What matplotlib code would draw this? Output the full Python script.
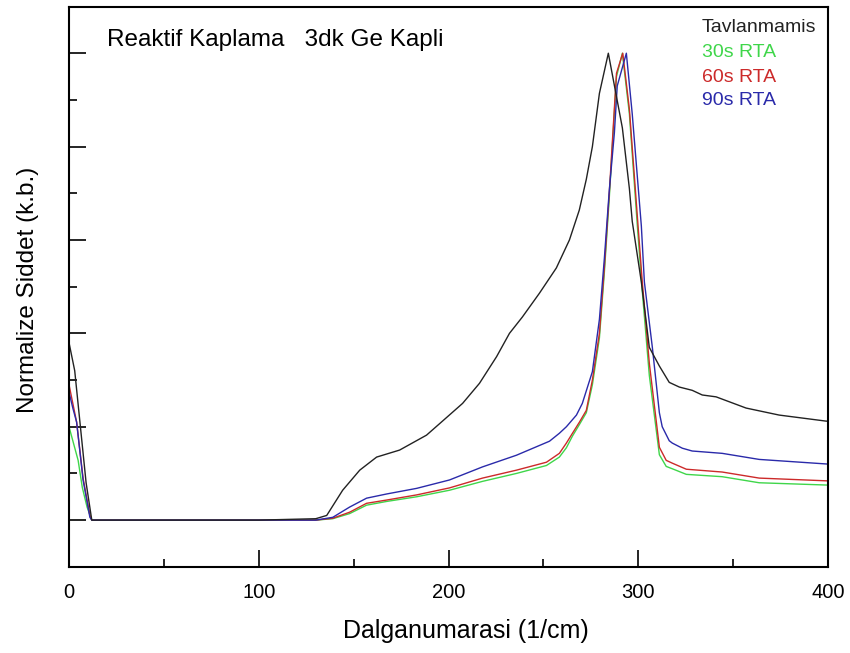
import matplotlib.pyplot as plt
from matplotlib.ticker import MultipleLocator, NullFormatter

plt.rcParams['font.family'] = ['Liberation Sans', 'DejaVu Sans']

# Tavlanmamis (black)
x_tav = [0, 3, 6, 9, 12, 20, 60, 100, 130, 135.8, 144.2, 153.2, 162.1, 174.2, 188.4,
         196.8, 207.4, 216.3, 225.3, 232.1, 238.9, 247.9, 256.8, 263.7, 268.9, 272.6,
         275.8, 279.5, 284.2, 291.6, 295.3, 296.8, 301.6, 305.8, 311.1, 316.3, 321.6,
         328.4, 333.7, 341.0, 356.8, 374.2, 399, 400]
y_tav = [0.38, 0.32, 0.20, 0.08, 0.0, 0, 0, 0, 0.003, 0.01, 0.064, 0.107, 0.135, 0.15, 0.182,
         0.212, 0.25, 0.293, 0.35, 0.40, 0.435, 0.486, 0.54, 0.60, 0.664, 0.73,
         0.80, 0.914, 1.0, 0.84, 0.71, 0.64, 0.51, 0.37, 0.33, 0.295, 0.285,
         0.278, 0.268, 0.264, 0.24, 0.225, 0.212, 0.212]

# 30s RTA (green)
x_30 = [0, 2, 4.8, 7, 9.5, 12, 60, 130, 139, 147.9, 156.8, 167.4, 183.2, 200.5, 217.9, 235.8,
        251.6, 258.4, 262.1, 265.3, 269, 272.6, 275.8, 279.5, 282.1, 284.7, 288.5, 291.6,
        295.3, 299.5, 302.1, 305.8, 311.1, 314.7, 317.9, 325.3, 344.2, 363.7, 400]
y_30 = [0.20, 0.17, 0.128, 0.07, 0.028, 0, 0, 0, 0.003, 0.014, 0.032, 0.04, 0.05, 0.064, 0.083, 0.10,
        0.117, 0.135, 0.155, 0.18, 0.205, 0.23, 0.29, 0.39, 0.53, 0.69, 0.95, 1.0,
        0.87, 0.63, 0.49, 0.31, 0.14, 0.115, 0.11, 0.098, 0.093, 0.08, 0.075]

# 60s RTA (red)
x_60 = [0, 2, 4, 7.4, 11, 12, 60, 130, 139, 147.9, 156.8, 167.4, 183.2, 200.5, 217.9, 235.8,
        251.6, 258.4, 262.1, 265.3, 269, 272.6, 275.8, 279.5, 282.1, 284.7, 288.5, 291.8,
        295.3, 299.5, 302.1, 305.8, 311.1, 314.7, 317.9, 325.3, 344.2, 363.7, 400]
y_60 = [0.29, 0.25, 0.21, 0.09, 0.01, 0, 0, 0, 0.004, 0.017, 0.036, 0.043, 0.054, 0.069, 0.09, 0.107,
        0.124, 0.143, 0.165, 0.186, 0.21, 0.235, 0.30, 0.40, 0.54, 0.70, 0.957, 1.0,
        0.88, 0.65, 0.51, 0.336, 0.156, 0.128, 0.122, 0.109, 0.103, 0.09, 0.084]

# 90s RTA (blue)
x_90 = [0, 2, 4, 7.4, 11, 12, 60, 130, 139, 147.9, 156.8, 167.4, 183.2, 200.5, 217.9, 235.8,
        253.2, 258.4, 262.1, 267.4, 270.5, 275.8, 279.5, 282.1, 284.7, 287.4, 288.9, 293.7,
        296.8, 301.6, 303.2, 307.4, 311.1, 312.6, 316.3, 317.9, 323.2, 328.4, 344.2, 363.7, 400]
y_90 = [0.274, 0.24, 0.21, 0.086, 0.006, 0, 0, 0, 0.006, 0.028, 0.047, 0.056, 0.068, 0.086, 0.114, 0.139,
        0.169, 0.186, 0.2, 0.225, 0.25, 0.318, 0.43, 0.56, 0.706, 0.83, 0.93, 1.0,
        0.87, 0.63, 0.51, 0.37, 0.23, 0.20, 0.17, 0.165, 0.154, 0.148, 0.143, 0.13, 0.12]

series = [
    (x_30, y_30, '#3fd64a', '30s RTA'),
    (x_60, y_60, '#cc2a2a', '60s RTA'),
    (x_90, y_90, '#2a2aaa', '90s RTA'),
    (x_tav, y_tav, '#222222', 'Tavlanmamis'),
]

fig = plt.figure(figsize=(8.5, 6.53), dpi=100)
ax = fig.add_axes([0.0812, 0.132, 0.893, 0.858])

for xs, ys, col, name in series:
    ax.plot(xs, ys, color=col, lw=1.0)

ax.set_xlim(0, 400)
ax.set_ylim(-0.1, 1.1)
ax.xaxis.set_major_locator(MultipleLocator(100))
ax.xaxis.set_minor_locator(MultipleLocator(50))
ax.yaxis.set_major_locator(MultipleLocator(0.2))
ax.yaxis.set_minor_locator(MultipleLocator(0.1))
ax.yaxis.set_major_formatter(NullFormatter())
ax.tick_params(which='both', direction='in', top=False, right=False, width=1.2)
ax.tick_params(which='major', length=12, labelsize=14.5, pad=12)
ax.tick_params(which='minor', length=6)
for sp in ax.spines.values():
    sp.set_linewidth(1.5)

ax.set_xlabel('Dalganumarasi (1/cm)', fontsize=18)
ax.set_ylabel('Normalize Siddet (k.b.)', fontsize=17.5)
ax.xaxis.set_label_coords(0.523, -0.094)
ax.yaxis.set_label_coords(-0.04, 0.494)

ax.text(0.05, 0.94, 'Reaktif Kaplama   3dk Ge Kapli', transform=ax.transAxes,
        fontsize=17.5, va='center', ha='left')

legend_y = [0.963, 0.918, 0.874, 0.833]
for (xs, ys, col, name), ly in zip([series[3]] + series[:3], legend_y):
    ax.text(0.834, ly, name, transform=ax.transAxes, color=col, fontsize=14,
            va='center', ha='left')

fig.savefig('out.png', dpi=100)
plt.close()
